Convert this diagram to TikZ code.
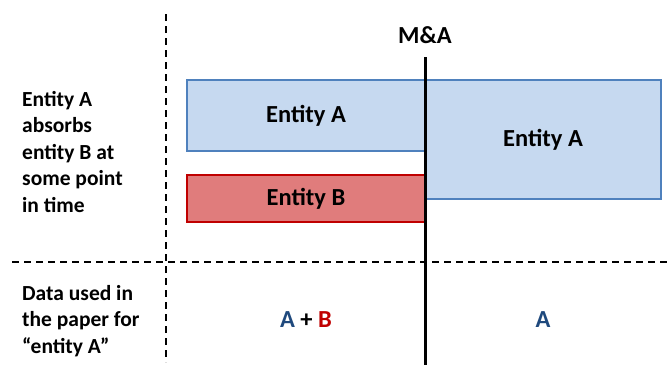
\documentclass[tikz,border=0pt]{standalone}
\usepackage{fontspec}
\setmainfont{Carlito}
\usepackage{xcolor}
\usepackage{tikz}
\usetikzlibrary{positioning, arrows.meta}
\definecolor{entblue}{RGB}{198,217,240}
\definecolor{entblueline}{RGB}{79,129,189}
\definecolor{entred}{RGB}{224,124,124}
\definecolor{entredline}{RGB}{192,0,0}
\definecolor{txtblue}{RGB}{31,73,125}

\begin{document}
\begin{tikzpicture}[
  x=1pt, y=-1pt,
  entbox/.style={rectangle, draw, line width=2pt, inner sep=0pt, align=center, font=\fontsize{24.5}{28}\selectfont\bfseries},
  sidetext/.style={anchor=west, align=left, inner sep=0pt, font=\fontsize{21.5}{26.5}\selectfont\bfseries},
  sumtext/.style={inner sep=0pt, font=\fontsize{24.5}{28}\selectfont\bfseries},
  divider/.style={dashed, line width=1.4pt, dash pattern=on 7pt off 5pt}
]
\useasboundingbox (0,0) rectangle (668,365);

% grid of the table
\coordinate (vtop) at (166,14);
\coordinate (vbot) at (166,362);
\coordinate (hleft) at (12,262);
\coordinate (hright) at (668,262);
\draw[divider] (vtop) -- (vbot);
\draw[divider] (hleft) -- (hright);

% row labels
\node[sidetext] (absorb) at (22,152) {Entity A\\absorbs\\entity B at\\some point\\in time};
\node[sidetext] (paper) at (22,321) {Data used in\\the paper for\\``entity A''};

% entities before and after
\node[entbox, fill=entblue, draw=entblueline, minimum width=238pt, minimum height=71pt] (abefore) at (306,115.5) {Entity A};
\node[entbox, fill=entred, draw=entredline, minimum width=238pt, minimum height=47pt] (bbefore) at (306,198.5) {Entity B};
\node[entbox, fill=entblue, draw=entblueline, minimum width=236pt, minimum height=119pt] (aafter) at (543,139.5) {Entity A};

% merger line
\node[sumtext, text=black] (ma) at (425,35) {M\&A};
\coordinate (matop) at (425,57);
\coordinate (mabot) at (425,365);
\draw[line width=3pt] (matop) -- (mabot);

% data used
\node[sumtext] (sumab) at (306,320) {\textcolor{txtblue}{A} + \textcolor{entredline}{B}};
\node[sumtext, text=txtblue] (suma) at (543,320) {A};
\end{tikzpicture}
\end{document}
